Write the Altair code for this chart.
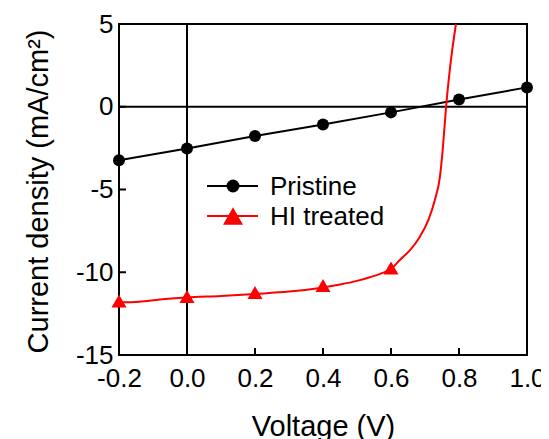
import altair as alt
import pandas as pd

# ---------------- data ----------------
x_ticks = [-0.2, 0.0, 0.2, 0.4, 0.6, 0.8, 1.0]
y_ticks = [-15, -10, -5, 0, 5]

pristine_v = [-0.2, 0.0, 0.2, 0.4, 0.6, 0.8, 1.0]
pristine_j = [-3.23, -2.52, -1.77, -1.07, -0.34, 0.44, 1.17]

hi_marker_v = [-0.2, 0.0, 0.2, 0.4, 0.6]
hi_marker_j = [-11.74, -11.47, -11.23, -10.8, -9.74]

hi_curve_v = [-0.2, -0.14, -0.08, 0.0, 0.1, 0.2, 0.3, 0.39, 0.45, 0.5, 0.54, 0.57, 0.6,
              0.626, 0.656, 0.685, 0.71, 0.729, 0.744, 0.752, 0.759, 0.763, 0.774, 0.791]
hi_curve_j = [-11.82, -11.78, -11.64, -11.52, -11.43, -11.31, -11.17, -10.95, -10.74,
              -10.52, -10.29, -10.08, -9.8, -9.26, -8.66, -7.85, -6.84, -5.63, -4.22,
              -2.61, -0.8, 0.2, 2.42, 5.0]

legend_labels = ["Pristine", "HI treated"]
legend_colors = ["#000000", "#ff0000"]
legend_shapes = ["circle", "triangle-up"]

# ---------------- layout ----------------
W, H = 408, 331
FONT = "Liberation Sans"

xs = alt.Scale(domain=[-0.2, 1.0], nice=False, zero=False)
ys = alt.Scale(domain=[-15, 5], nice=False, zero=False)

x_axis = alt.Axis(
    values=x_ticks, grid=False, domain=False, ticks=False, tickSize=0,
    labelExpr="datum.value < 0 ? '-' + format(-datum.value, '.1f') : format(datum.value, '.1f')",
    labelFontSize=26, labelPadding=10, labelColor="black", labelFont=FONT,
    labelFlush=False, labelOverlap=False,
    title="Voltage (V)", titleFontSize=29, titleFontWeight="normal", titleFont=FONT,
    titleColor="black", titleY=80, titleBaseline="alphabetic",
)
y_axis = alt.Axis(
    values=y_ticks, grid=False, domain=False, ticks=False, tickSize=0,
    labelExpr="datum.value < 0 ? '-' + format(-datum.value, 'd') : format(datum.value, 'd')",
    labelFontSize=26, labelPadding=6, labelColor="black", labelFont=FONT,
    labelFlush=False, labelOverlap=False,
    title="Current density (mA/cm²)", titleFontSize=29, titleFontWeight="normal",
    titleFont=FONT, titleColor="black", titleX=-72, titleY=167,
    titleBaseline="alphabetic", titleAlign="center", titleAngle=-90,
)

# zero lines
zero_h = alt.Chart(pd.DataFrame({"j": [0]})).mark_rule(color="black", strokeWidth=2).encode(
    y=alt.Y("j:Q", scale=ys, axis=y_axis))
zero_v = alt.Chart(pd.DataFrame({"v": [0.0]})).mark_rule(color="black", strokeWidth=2).encode(
    x=alt.X("v:Q", scale=xs, axis=x_axis))

# inward ticks
xtick = alt.Chart(pd.DataFrame({"v": x_ticks})).mark_rule(color="black", strokeWidth=2).encode(
    x=alt.X("v:Q", scale=xs), y=alt.value(H), y2=alt.value(H - 7))
ytick = alt.Chart(pd.DataFrame({"j": y_ticks})).mark_rule(color="black", strokeWidth=2).encode(
    y=alt.Y("j:Q", scale=ys), x=alt.value(0), x2=alt.value(7))

pr_df = pd.DataFrame({"v": pristine_v, "j": pristine_j})
pr_line = alt.Chart(pr_df).mark_line(color="black", strokeWidth=2).encode(
    x=alt.X("v:Q", scale=xs), y=alt.Y("j:Q", scale=ys))
pr_pts = alt.Chart(pr_df).mark_point(shape="circle", filled=True, color="black", size=144, opacity=1).encode(
    x=alt.X("v:Q", scale=xs), y=alt.Y("j:Q", scale=ys))

hc_df = pd.DataFrame({"v": hi_curve_v, "j": hi_curve_j, "o": list(range(len(hi_curve_v)))})
hi_line = alt.Chart(hc_df).mark_line(color="#ff0000", strokeWidth=2, interpolate="monotone").encode(
    x=alt.X("v:Q", scale=xs), y=alt.Y("j:Q", scale=ys), order="o:Q")
hm_df = pd.DataFrame({"v": hi_marker_v, "j": hi_marker_j})
hi_pts = alt.Chart(hm_df).mark_point(shape="triangle-up", filled=True, color="#ff0000", size=225, opacity=1).encode(
    x=alt.X("v:Q", scale=xs), y=alt.Y("j:Q", scale=ys))

layers = [zero_h, zero_v, xtick, ytick, pr_line, hi_line, pr_pts, hi_pts]

legend_y = [162, 192]
legend_sizes = [169, 400]
for i, lab in enumerate(legend_labels):
    ldf = pd.DataFrame({"label": [lab]})
    yp = legend_y[i]
    layers.append(alt.Chart(ldf).mark_rule(color=legend_colors[i], strokeWidth=2).encode(
        x=alt.value(88), x2=alt.value(139), y=alt.value(yp)))
    layers.append(alt.Chart(ldf).mark_point(shape=legend_shapes[i], filled=True, opacity=1,
                                            color=legend_colors[i], size=legend_sizes[i]).encode(
        x=alt.value(114), y=alt.value(yp)))
    layers.append(alt.Chart(ldf).mark_text(align="left", baseline="middle", fontSize=26,
                                           font=FONT, color="black").encode(
        x=alt.value(151), y=alt.value(yp + 1), text="label:N"))

chart = alt.layer(*layers).properties(
    width=W, height=H,
    background="white",
    autosize=alt.AutoSizeParams(type="none"),
    padding={"left": 111, "top": 16, "right": 14, "bottom": 84},
).configure_view(stroke="black", strokeWidth=2)

chart.save("out.html", embed_options={"renderer": "svg", "actions": False})
